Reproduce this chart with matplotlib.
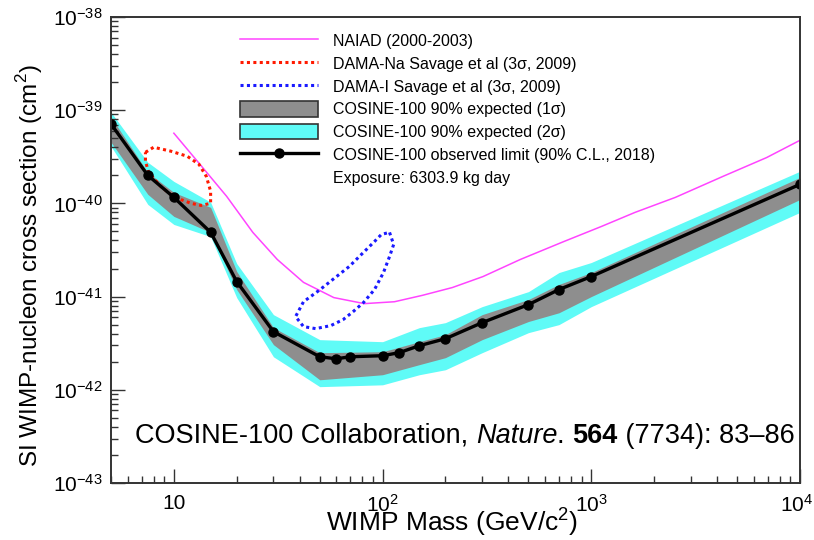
import matplotlib
matplotlib.use("Agg")
import matplotlib.pyplot as plt
from matplotlib.lines import Line2D
from matplotlib.patches import Patch
from matplotlib.transforms import ScaledTranslation
from matplotlib.ticker import FixedLocator, FixedFormatter, LogLocator, NullFormatter

plt.rcParams['font.family'] = ['Liberation Sans', 'DejaVu Sans']

# observed limit (90% C.L.)
obs_mass = [5, 7.5, 10, 15, 20, 30, 50, 60, 70, 100, 120, 150, 200, 300, 500, 700, 1000, 10000]
obs_xs = [7.1e-40, 2.0e-40, 1.16e-40, 4.9e-41, 1.45e-41, 4.2e-42, 2.26e-42, 2.15e-42, 2.26e-42,
          2.32e-42, 2.5e-42, 2.97e-42, 3.53e-42, 5.25e-42, 8.2e-42, 1.19e-41, 1.64e-41, 1.6e-40]

# expected sensitivity bands
band_mass = [5, 7.5, 10, 15, 20, 30, 50, 100, 150, 200, 300, 500, 700, 1000, 10000]
s2_hi = [9.5e-40, 2.76e-40, 1.72e-40, 1.03e-40, 2.26e-41, 6.4e-42, 3.45e-42, 3.28e-42, 4.64e-42,
         5.25e-42, 7.8e-42, 1.13e-41, 1.81e-41, 2.32e-41, 2.21e-40]
s1_hi = [8.4e-40, 2.15e-40, 1.31e-40, 9.06e-41, 1.86e-41, 4.64e-42, 2.5e-42, 2.56e-42, 3.28e-42,
         3.9e-42, 6.4e-42, 9.3e-42, 1.35e-41, 1.81e-41, 1.9e-40]
s1_lo = [4.53e-40, 1.25e-40, 7.25e-41, 4.88e-41, 1.19e-41, 3.05e-42, 1.28e-42, 1.45e-42, 1.86e-42,
         2.21e-42, 3.45e-42, 5.4e-42, 6.7e-42, 1.0e-41, 1.1e-40]
s2_lo = [4.1e-40, 9.75e-41, 5.94e-41, 4.4e-41, 9.75e-42, 2.26e-42, 1.08e-42, 1.13e-42, 1.45e-42,
         1.64e-42, 2.5e-42, 4.1e-42, 5.0e-42, 7.8e-42, 8.0e-41]

# NAIAD (2000-2003)
naiad_mass = [10, 13.7, 17.9, 23.9, 31.3, 41.8, 58.4, 81.8, 114, 155, 216, 303, 457, 740,
              1120, 1620, 2530, 4280, 6920, 10000]
naiad_xs = [5.66e-40, 2.44e-40, 1.19e-40, 4.88e-41, 2.5e-41, 1.42e-41, 9.75e-42, 8.4e-42, 8.8e-42,
            1.03e-41, 1.25e-41, 1.64e-41, 2.5e-41, 3.9e-41, 5.66e-41, 8.0e-41, 1.16e-40, 1.95e-40,
            3.1e-40, 4.75e-40]

# DAMA-Na contour
dna_mass = [7.31, 8.0, 9.67, 11.6, 13.2, 14.3, 15.0, 15.0, 13.5, 12.1, 10.8, 9.67, 8.65, 7.57, 7.31, 7.31]
dna_xs = [3.53e-40, 4.0e-40, 3.63e-40, 3.2e-40, 2.62e-40, 1.95e-40, 1.35e-40, 1.0e-40, 9.5e-41,
          1.0e-40, 1.10e-40, 1.25e-40, 1.52e-40, 2.15e-40, 2.83e-40, 3.53e-40]

# DAMA-I contour
di_mass = [108, 113, 108, 101, 91.5, 80.9, 72.3, 64.7, 56.5, 47.8, 41.8, 38.3, 41.8, 49.5, 58.5,
           69.2, 80.9, 91.5, 98.8, 108]
di_xs = [4.88e-41, 3.62e-41, 2.69e-41, 1.81e-41, 1.19e-41, 8.6e-42, 6.9e-42, 5.66e-42, 4.88e-42,
         4.53e-42, 4.76e-42, 6.1e-42, 8.8e-42, 1.16e-41, 1.56e-41, 2.1e-41, 2.97e-41, 3.9e-41,
         4.65e-41, 4.88e-41]

cyan = '#5ffbf7'
grey = '#8e8e8e'
magenta = '#ff44ff'

fig = plt.figure(figsize=(8.14, 5.40), dpi=100)
ax = fig.add_axes([0.1364, 0.1056, 0.8464, 0.863])

ax.fill_between(band_mass, s2_lo, s2_hi, color=cyan, lw=0)
ax.fill_between(band_mass, s1_lo, s1_hi, color=grey, lw=0)
ax.plot(naiad_mass, naiad_xs, color=magenta, lw=1.1)
ax.plot(dna_mass, dna_xs, color='#ff1a00', lw=2.2, ls=(0, (1, 1.1)), dash_capstyle='butt')
ax.plot(di_mass, di_xs, color='#1a1aff', lw=2.2, ls=(0, (1, 1.1)), dash_capstyle='butt')
ax.plot(obs_mass, obs_xs, color='black', lw=2.4, marker='o', ms=6.5)

ax.set_xscale('log')
ax.set_yscale('log')
ax.set_xlim(5, 1e4)
ax.set_ylim(1e-43, 1e-38)

xt = [10, 100, 1000, 10000]
ax.xaxis.set_major_locator(FixedLocator(xt))
ax.xaxis.set_major_formatter(FixedFormatter(['10', r'$\mathdefault{10^{2}}$',
                                             r'$\mathdefault{10^{3}}$', r'$\mathdefault{10^{4}}$']))
ax.xaxis.set_minor_locator(LogLocator(base=10, subs=range(2, 10), numticks=20))
ax.xaxis.set_minor_formatter(NullFormatter())
ax.yaxis.set_major_locator(LogLocator(base=10, numticks=10))
ax.yaxis.set_minor_locator(LogLocator(base=10, subs=range(2, 10), numticks=20))
ax.yaxis.set_minor_formatter(NullFormatter())

ax.tick_params(which='both', direction='in', top=False, right=False, labelsize=15, color='#333333')
ax.tick_params(which='major', length=10, width=1.0)
ax.tick_params(axis='x', which='major', pad=8)
ax.tick_params(axis='y', which='major', pad=6)
ax.tick_params(which='minor', length=5, width=1.0)
for s in ax.spines.values():
    s.set_linewidth(1.4)
    s.set_color('#333333')

ax.set_xlabel(r'WIMP Mass (GeV/c$^{\mathdefault{2}}$)', fontsize=19)
ax.set_ylabel(r'SI WIMP-nucleon cross section (cm$^{\mathdefault{2}}$)', fontsize=17.5)
ax.xaxis.set_label_coords((452 - 111) / 689, (483 - 522) / 466)
ax.xaxis.label.set_va('center')
ax.yaxis.set_label_coords((30 - 111) / 689, (483 - 266) / 466)
ax.yaxis.label.set_va('center')

handles = [
    Line2D([], [], color=magenta, lw=1.1),
    Line2D([], [], color='#ff1a00', lw=2.2, ls=(0, (1, 1.1))),
    Line2D([], [], color='#1a1aff', lw=2.2, ls=(0, (1, 1.1))),
    Patch(facecolor=grey, edgecolor='#333333', lw=1.2),
    Patch(facecolor=cyan, edgecolor='#333333', lw=1.2),
    Line2D([], [], color='black', lw=2.4, marker='o', ms=6.5),
    Line2D([], [], ls='none'),
]
labels = ['NAIAD (2000-2003)', 'DAMA-Na Savage et al (3σ, 2009)', 'DAMA-I Savage et al (3σ, 2009)',
          'COSINE-100 90% expected (1σ)', 'COSINE-100 90% expected (2σ)',
          'COSINE-100 observed limit (90% C.L., 2018)', 'Exposure: 6303.9 kg day']
ax.legend(handles, labels, loc='upper left', bbox_to_anchor=(0.187, 0.966), frameon=False,
          fontsize=11.5, handlelength=4.9, handleheight=1.1, handletextpad=0.95,
          labelspacing=0.42, borderaxespad=0, borderpad=0)

fig.canvas.draw()
r = fig.canvas.get_renderer()

# shift last x tick label so it stays inside the figure
lab = ax.get_xticklabels()[-1]
lab.set_transform(lab.get_transform() + ScaledTranslation(-0.03, 0, fig.dpi_scale_trans))

# citation
parts = [('COSINE-100 Collaboration, ', 'normal', 'normal'), ('Nature', 'italic', 'normal'),
         ('. ', 'normal', 'normal'), ('564', 'normal', 'bold'), (' (7734): 83–86', 'normal', 'normal')]
xpos = 135
for txt, st, wt in parts:
    t = fig.text(xpos / 814, 1 - 443 / 540, txt, fontsize=19.5, style=st, weight=wt, va='baseline')
    xpos = t.get_window_extent(r).x1

fig.savefig('out.png', dpi=100)
